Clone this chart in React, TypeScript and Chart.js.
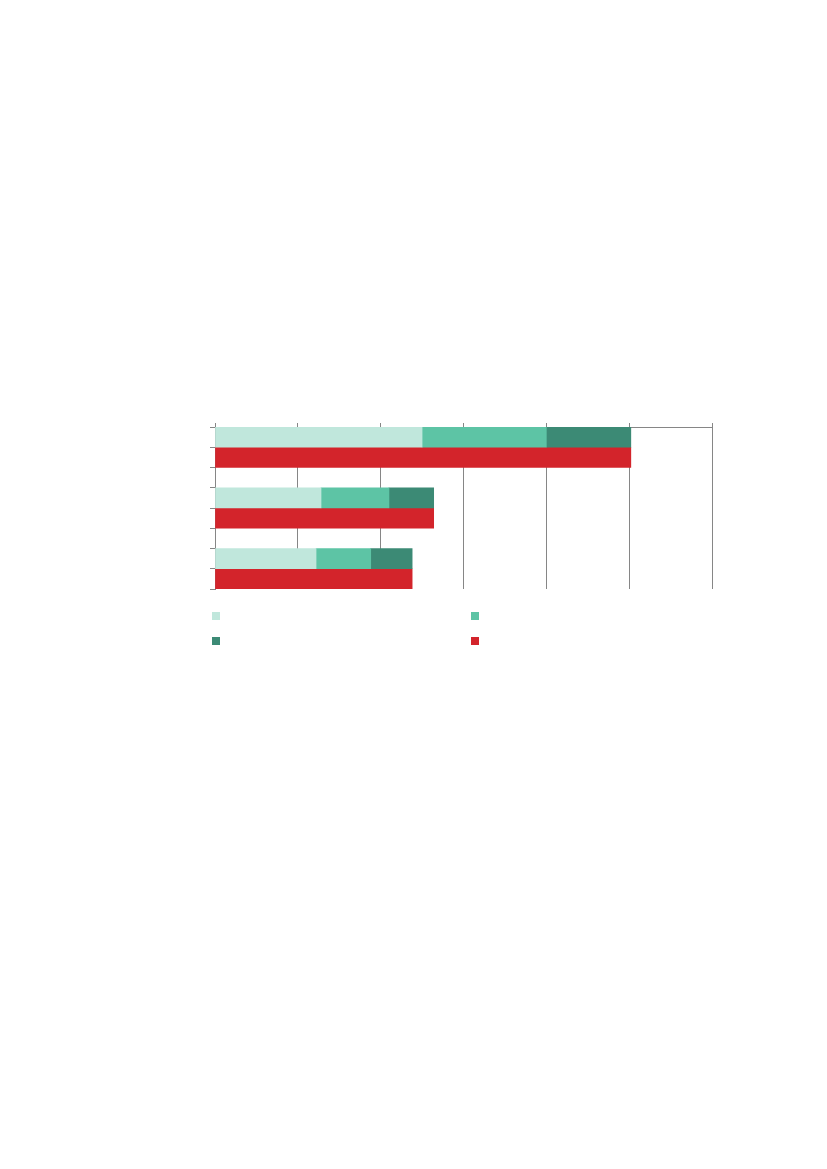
import React, { useEffect, useRef } from "react";
import { Chart, registerables } from "chart.js";

Chart.register(...registerables);

const groups = ["A", "B", "C"];
const lightValues = [125, 64, 61];
const midValues = [75, 41, 33];
const darkValues = [51, 27, 25];
const redValues = [251, 132, 119];
const xTicks = [0, 50, 100, 150, 200, 250, 300];

const seriesColors = ["#c0e7dc", "#5dc4a5", "#3c8a75", "#d3242b"];

export default function App() {
  const ref = useRef<HTMLCanvasElement>(null);
  useEffect(() => {
    if (!ref.current) return;
    // 8 slots per chart: stacked bar, red bar, gap, ...
    const nSlots = groups.length * 3 - 1;
    const labels: string[] = [];
    for (let s = 0; s < nSlots; s++) labels.push("");
    const build = (vals: number[], offset: number) => {
      const arr: (number | null)[] = new Array(nSlots).fill(null);
      vals.forEach((v, i) => {
        arr[i * 3 + offset] = v;
      });
      return arr;
    };
    const chart = new Chart(ref.current, {
      type: "bar",
      data: {
        labels,
        datasets: [
          { label: "", data: build(lightValues, 0), backgroundColor: seriesColors[0], stack: "s" },
          { label: "", data: build(midValues, 0), backgroundColor: seriesColors[1], stack: "s" },
          { label: "", data: build(darkValues, 0), backgroundColor: seriesColors[2], stack: "s" },
          { label: "", data: build(redValues, 1), backgroundColor: seriesColors[3], stack: "s" },
        ],
      },
      options: {
        indexAxis: "y",
        responsive: false,
        animation: false,
        layout: { padding: { left: 210, top: 423, right: 115, bottom: 580 } },
        plugins: { legend: { display: false }, tooltip: { enabled: false } },
        datasets: { bar: { barPercentage: 1, categoryPercentage: 1, borderWidth: 0 } },
        scales: {
          x: {
            position: "top",
            stacked: true,
            min: 0,
            max: 300,
            afterBuildTicks: (scale: any) => {
              scale.ticks = xTicks.map((v) => ({ value: v }));
            },
            afterFit: (scale: any) => {
              scale.height = 4;
            },
            ticks: { display: false },
            grid: { color: "#868686", lineWidth: 1, tickLength: 4, drawOnChartArea: true },
            border: { color: "#868686", width: 1 },
          },
          y: {
            stacked: true,
            offset: true,
            afterFit: (scale: any) => {
              scale.width = 5;
            },
            ticks: { display: false },
            grid: { offset: true, color: "#868686", lineWidth: 1, tickLength: 5, drawOnChartArea: false },
            border: { color: "#868686", width: 1 },
          },
        },
      },
    });
    return () => chart.destroy();
  }, []);

  const legendPos = [
    { left: 212, top: 612 },
    { left: 471, top: 612 },
    { left: 212, top: 637 },
    { left: 471, top: 637 },
  ];

  return (
    <div style={{ position: "absolute", left: 0, top: 0, width: 827, height: 1169 }}>
      <canvas ref={ref} width={827} height={1169} style={{ width: 827, height: 1169, display: "block" }} />
      {seriesColors.map((c, i) => (
        <div
          key={i}
          style={{
            position: "absolute",
            left: legendPos[i].left,
            top: legendPos[i].top,
            width: 8,
            height: 8,
            background: c,
          }}
        />
      ))}
    </div>
  );
}
